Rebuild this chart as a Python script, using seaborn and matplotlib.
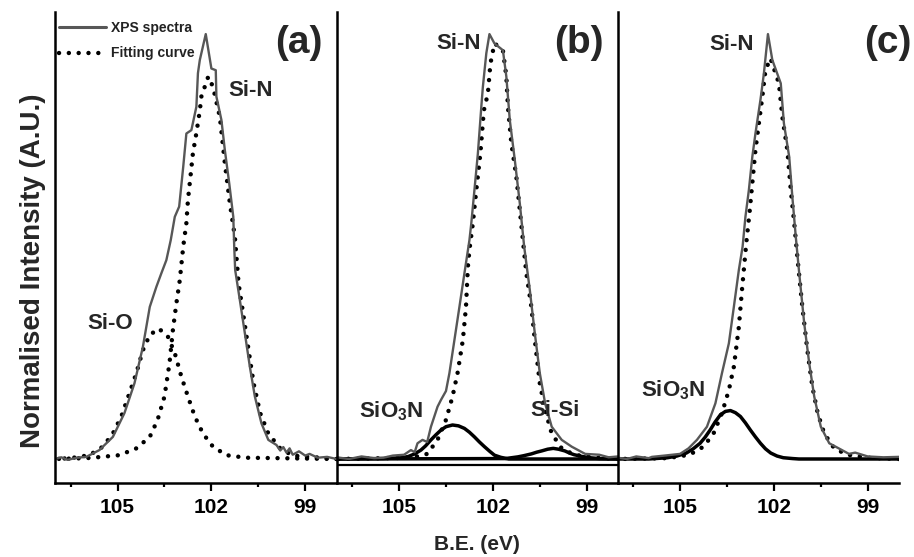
import matplotlib
matplotlib.use("Agg")
import matplotlib.pyplot as plt
import seaborn as sns
from matplotlib.lines import Line2D

# ---- data (binding energy in eV, normalised intensity) ----
# panel (a)
xps_a_ev = [107.0, 106.8, 106.6, 106.3, 106.0, 105.58, 105.15, 104.78, 104.46, 104.19, 103.97,
            103.76, 103.6, 103.44, 103.3, 103.17, 103.03, 102.9, 102.8, 102.64, 102.48, 102.43,
            102.37, 102.18, 102.0, 101.86, 101.84, 101.68, 101.57, 101.43, 101.3, 101.27, 101.24,
            101.09, 100.93, 100.77, 100.61, 100.4, 100.18, 99.92, 99.8, 99.7, 99.6, 99.5, 99.4,
            99.2, 99.0, 98.86, 98.6, 98.3, 98.0]
xps_a_int = [0.0, 0.004, -0.002, 0.003, 0.005, 0.021, 0.052, 0.108, 0.178, 0.264, 0.358,
             0.405, 0.437, 0.468, 0.515, 0.570, 0.594, 0.688, 0.766, 0.774, 0.829, 0.908,
             0.939, 1.0, 0.919, 0.915, 0.853, 0.798, 0.727, 0.649, 0.570, 0.50, 0.445,
             0.374, 0.296, 0.217, 0.147, 0.084, 0.045, 0.033, 0.02, 0.028, 0.015, 0.025, 0.01,
             0.018, 0.008, 0.012, 0.003, 0.005, 0.0]
sin_a_ev = [107.0, 106.0, 105.8, 104.94, 104.4, 103.97, 103.72, 103.5, 103.34, 103.23, 103.12,
            103.01, 102.9, 102.8, 102.75, 102.67, 102.59, 102.48, 102.37, 102.32, 102.1, 101.95,
            101.73, 101.57, 101.41, 101.25, 101.13, 100.97, 100.81, 100.65, 100.44, 100.18, 99.8,
            99.4, 98.5, 98.0]
sin_a_int = [0.0, 0.002, 0.003, 0.009, 0.025, 0.052, 0.092, 0.147, 0.225, 0.304, 0.366,
             0.421, 0.5, 0.555, 0.609, 0.664, 0.72, 0.767, 0.82, 0.853, 0.90, 0.876,
             0.805, 0.696, 0.602, 0.523, 0.413, 0.335, 0.256, 0.178, 0.108, 0.06, 0.025,
             0.008, 0.003, 0.0]
sio_a_ev = [107.0, 106.5, 105.9, 105.47, 105.15, 104.88, 104.62, 104.4, 104.19, 103.97, 103.68,
            103.39, 103.17, 102.96, 102.75, 102.53, 102.27, 101.95, 101.52, 100.9, 98.0]
sio_a_int = [0.0, 0.002, 0.009, 0.029, 0.06, 0.1, 0.155, 0.202, 0.256, 0.292, 0.307,
             0.288, 0.249, 0.194, 0.147, 0.1, 0.06, 0.029, 0.009, 0.003, 0.0]

# panel (b)
xps_b_ev = [107.0, 106.6, 106.2, 105.8, 105.5, 105.2, 104.84, 104.62, 104.5, 104.41, 104.25,
            104.1, 103.98, 103.77, 103.66, 103.5, 103.39, 103.23, 103.07, 102.91, 102.75, 102.69,
            102.59, 102.48, 102.37, 102.32, 102.21, 102.11, 101.95, 101.68, 101.57, 101.46, 101.3,
            101.14, 101.0, 100.82, 100.66, 100.5, 100.33, 100.12, 99.8, 99.48, 99.05, 98.6, 98.3, 98.0]
xps_b_int = [0.004, 0.0, 0.006, 0.002, 0.003, 0.008, 0.01, 0.021, 0.016, 0.037, 0.045,
             0.04, 0.076, 0.123, 0.139, 0.16, 0.202, 0.28, 0.358, 0.437, 0.515, 0.555,
             0.633, 0.719, 0.829, 0.876, 0.955, 1.0, 0.978, 0.962, 0.9, 0.798, 0.704,
             0.602, 0.50, 0.398, 0.296, 0.202, 0.131, 0.076, 0.045, 0.029, 0.012, 0.01, 0.004, 0.006]
sin_b_ev = [107.0, 104.6, 104.1, 103.77, 103.5, 103.29, 103.13, 102.96, 102.86, 102.8, 102.75,
            102.64, 102.53, 102.4, 102.29, 102.16, 102.08, 101.95, 101.8, 101.68, 101.57, 101.52,
            101.41, 101.25, 101.14, 101.03, 100.93, 100.77, 100.66, 100.5, 100.33, 100.12, 99.8,
            99.4, 98.7, 98.0]
sin_b_int = [0.0, 0.003, 0.012, 0.045, 0.092, 0.147, 0.202, 0.28, 0.358, 0.452, 0.492,
             0.555, 0.633, 0.719, 0.82, 0.86, 0.93, 0.978, 0.97, 0.962, 0.9, 0.829,
             0.743, 0.664, 0.586, 0.507, 0.437, 0.358, 0.28, 0.178, 0.115, 0.06, 0.025,
             0.01, 0.003, 0.0]
sio3n_b_ev = [107.0, 105.5, 104.9, 104.7, 104.5, 104.3, 104.15, 103.98, 103.82, 103.66, 103.5,
              103.29, 103.1, 102.91, 102.75, 102.59, 102.43, 102.27, 102.1, 101.95, 101.75,
              101.5, 98.0]
sio3n_b_int = [0.0, 0.001, 0.003, 0.006, 0.012, 0.021, 0.031, 0.045, 0.057, 0.068, 0.076,
               0.08, 0.078, 0.072, 0.063, 0.052, 0.04, 0.029, 0.018, 0.009, 0.004,
               0.0, 0.0]
sisi_b_ev = [107.0, 101.6, 101.4, 101.2, 101.0, 100.77, 100.6, 100.44, 100.25, 100.07, 99.9,
             99.7, 99.55, 99.4, 99.15, 98.9, 98.6, 98.0]
sisi_b_int = [0.0, 0.001, 0.003, 0.005, 0.008, 0.012, 0.016, 0.019, 0.023, 0.025, 0.023,
              0.019, 0.014, 0.01, 0.006, 0.003, 0.001, 0.0]
base_b = -0.013

# panel (c)
xps_c_ev = [107.0, 106.7, 106.4, 106.0, 105.9, 105.5, 105.0, 104.73, 104.46, 104.14, 103.87,
            103.66, 103.44, 103.28, 103.12, 103.0, 102.91, 102.8, 102.69, 102.59, 102.43, 102.32,
            102.19, 102.05, 101.78, 101.68, 101.51, 101.41, 101.3, 101.19, 101.03, 100.87, 100.71,
            100.5, 100.23, 99.85, 99.6, 99.4, 99.0, 98.5, 98.0]
xps_c_int = [0.003, 0.0, 0.006, 0.002, 0.005, 0.008, 0.012, 0.025, 0.045, 0.076, 0.131,
             0.202, 0.272, 0.358, 0.445, 0.50, 0.57, 0.633, 0.711, 0.766, 0.845, 0.907,
             1.0, 0.939, 0.884, 0.79, 0.711, 0.617, 0.523, 0.437, 0.319, 0.225, 0.147,
             0.076, 0.037, 0.022, 0.012, 0.015, 0.006, 0.004, 0.005]
sin_c_ev = [107.0, 105.4, 104.7, 104.25, 103.93, 103.66, 103.44, 103.28, 103.12, 103.02, 102.88,
            102.77, 102.69, 102.59, 102.48, 102.37, 102.27, 102.11, 101.84, 101.73, 101.57, 101.46,
            101.35, 101.28, 101.25, 101.09, 100.93, 100.77, 100.6, 100.39, 100.07, 99.65, 99.0, 98.0]
sin_c_int = [0.0, 0.002, 0.01, 0.029, 0.06, 0.108, 0.162, 0.217, 0.311, 0.398, 0.51,
             0.586, 0.649, 0.727, 0.79, 0.852, 0.915, 0.943, 0.884, 0.805, 0.727, 0.633,
             0.555, 0.5, 0.476, 0.358, 0.256, 0.17, 0.108, 0.06, 0.025, 0.01, 0.003, 0.0]
sio3n_c_ev = [107.0, 106.0, 105.6, 105.4, 105.1, 104.8, 104.58, 104.36, 104.2, 104.04, 103.88,
              103.71, 103.55, 103.39, 103.23, 103.07, 102.91, 102.75, 102.59, 102.43, 102.27,
              102.1, 101.9, 101.7, 101.4, 101.2, 98.0]
sio3n_c_int = [0.0, 0.0, 0.002, 0.003, 0.007, 0.014, 0.024, 0.037, 0.051, 0.068, 0.087,
               0.104, 0.112, 0.114, 0.109, 0.1, 0.085, 0.068, 0.052, 0.037, 0.024,
               0.014, 0.007, 0.003, 0.001, 0.0, 0.0]

panel_tags = ["(a)", "(b)", "(c)"]
tag_xpos = [0.866, 0.861, 0.96]
xticks = [105, 102, 99]

XPS_COLOR = "#575757"
XPS_LW = 1.7
DOT = dict(color="black", lw=3.2, linestyle=(0, (0.01, 2.2)), dash_capstyle="round")
SOLID = dict(color="black", lw=2.5, solid_capstyle="round", solid_joinstyle="round")

sns.set_theme(style="ticks")
plt.rcParams["font.family"] = ["Liberation Sans", "DejaVu Sans"]
plt.rcParams["font.weight"] = "bold"
plt.rcParams["mathtext.fontset"] = "custom"
plt.rcParams["mathtext.rm"] = "Liberation Sans:bold"
plt.rcParams["mathtext.bf"] = "Liberation Sans:bold"
plt.rcParams["mathtext.default"] = "bf"

fig = plt.figure(figsize=(9.14, 5.57), dpi=100)
lefts = [55 / 914, 336.5 / 914, 617.5 / 914]
axes = [fig.add_axes([l, 74 / 557, 281.5 / 914, 471 / 557]) for l in lefts]


def draw(ax, x, y, style):
    if style == "xps":
        sns.lineplot(x=x, y=y, ax=ax, color=XPS_COLOR, lw=XPS_LW)
    elif style == "dot":
        sns.lineplot(x=x, y=y, ax=ax, **DOT)
    else:
        sns.lineplot(x=x, y=y, ax=ax, **SOLID)


ax_a, ax_b, ax_c = axes
draw(ax_a, sio_a_ev, sio_a_int, "dot")
draw(ax_a, sin_a_ev, sin_a_int, "dot")
draw(ax_a, xps_a_ev, xps_a_int, "xps")

ax_b.axhline(base_b, color="black", lw=1.6)
draw(ax_b, sio3n_b_ev, sio3n_b_int, "solid")
draw(ax_b, sisi_b_ev, sisi_b_int, "solid")
draw(ax_b, sin_b_ev, sin_b_int, "dot")
draw(ax_b, xps_b_ev, xps_b_int, "xps")

draw(ax_c, sio3n_c_ev, sio3n_c_int, "solid")
draw(ax_c, sin_c_ev, sin_c_int, "dot")
draw(ax_c, xps_c_ev, xps_c_int, "xps")

for ax, tag, tx in zip(axes, panel_tags, tag_xpos):
    ax.set_xlim(107.0, 98.0)
    ax.set_ylim(-0.0565, 1.052)
    ax.set_facecolor("white")
    ax.set_xticks(xticks)
    ax.set_xticks([106.5, 103.5, 100.5], minor=True)
    ax.set_yticks([])
    ax.set_xlabel("")
    ax.set_ylabel("")
    sns.despine(ax=ax, top=True, right=True)
    for side in ("left", "bottom"):
        ax.spines[side].set_linewidth(1.8)
        ax.spines[side].set_color("black")
    ax.tick_params(axis="x", which="major", length=6, width=1.6, labelsize=15, pad=5,
                   colors="black")
    ax.tick_params(axis="x", which="minor", length=3, width=1.6, colors="black")
    for lab in ax.get_xticklabels():
        lab.set_fontweight("bold")
    ax.text(tx, 0.935, tag, transform=ax.transAxes, fontsize=28, fontweight="bold",
            ha="center", va="center")

# peak annotations
lab_kw = dict(fontsize=16, fontweight="bold", ha="center", va="center")
ax_a.text(100.74, 0.868, "Si-N", **lab_kw)
ax_a.text(105.24, 0.32, "Si-O", **lab_kw)
ax_b.text(103.1, 0.978, "Si-N", **lab_kw)
ax_b.text(105.24, 0.113, r"SiO$_{\mathbf{3}}$N", **lab_kw)
ax_b.text(100.02, 0.115, "Si-Si", **lab_kw)
ax_c.text(103.34, 0.976, "Si-N", **lab_kw)
ax_c.text(105.23, 0.162, r"SiO$_{\mathbf{3}}$N", **lab_kw)

handles = [Line2D([], [], color=XPS_COLOR, lw=2.2),
           Line2D([], [], **DOT)]
leg = ax_a.legend(handles, ["XPS spectra", "Fitting curve"], loc="upper left",
                  bbox_to_anchor=(0.0, 0.989), frameon=False, fontsize=10,
                  handlelength=3.4, handletextpad=0.3, labelspacing=0.8,
                  borderaxespad=0.1, borderpad=0.2)
for t in leg.get_texts():
    t.set_fontweight("bold")
    t.set_color("#222222")

fig.text(33 / 914, 1 - 271 / 557, "Normalised Intensity (A.U.)", rotation=90,
         fontsize=20, fontweight="bold", ha="center", va="center")
fig.text(477 / 914, 1 - 545 / 557, "B.E. (eV)", fontsize=15, fontweight="bold",
         ha="center", va="center")

fig.savefig("out.png", dpi=100, facecolor="white")
